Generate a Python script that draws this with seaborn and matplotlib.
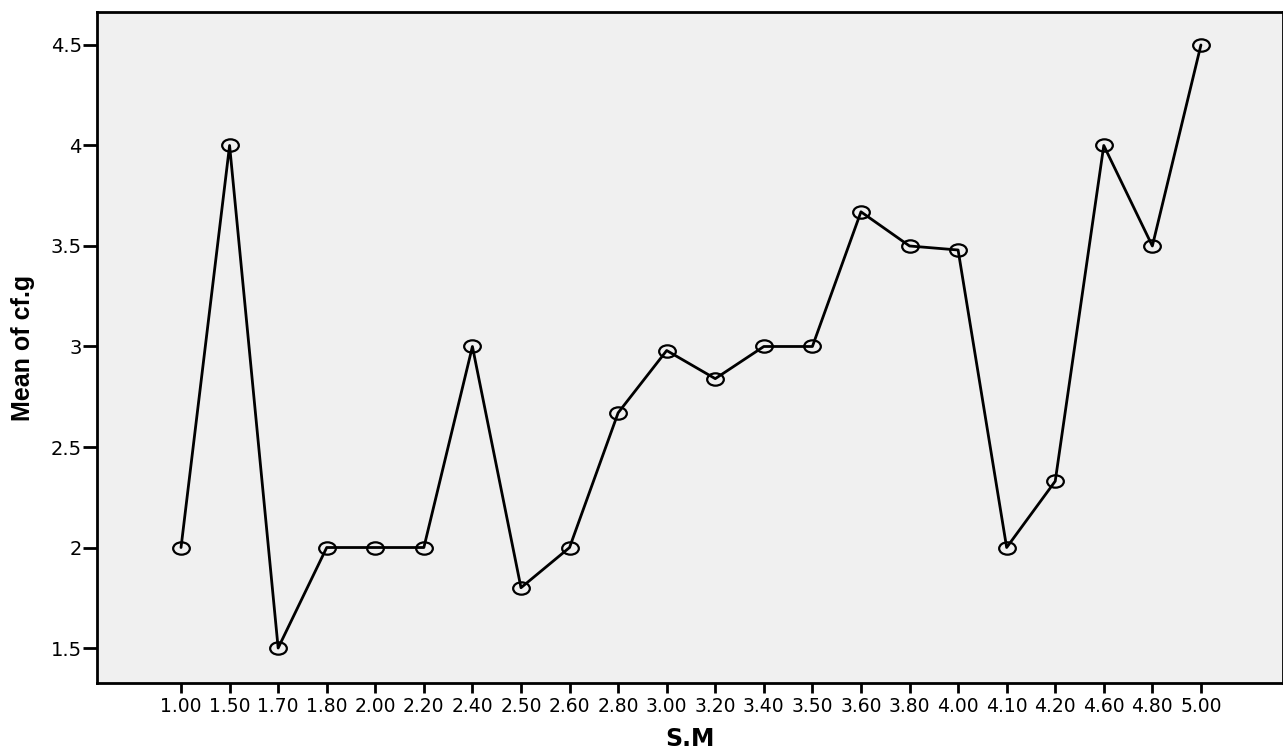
import numpy as np
import pandas as pd
import matplotlib
matplotlib.use("Agg")
import matplotlib.pyplot as plt
from matplotlib.path import Path
import seaborn as sns

# data
sm_labels = ["1.00", "1.50", "1.70", "1.80", "2.00", "2.20", "2.40", "2.50",
             "2.60", "2.80", "3.00", "3.20", "3.40", "3.50", "3.60", "3.80",
             "4.00", "4.10", "4.20", "4.60", "4.80", "5.00"]
mean_cfg = [2.0, 4.0, 1.5, 2.0, 2.0, 2.0, 3.0, 1.8,
            2.0, 2.67, 2.98, 2.84, 3.0, 3.0, 3.67, 3.5,
            3.48, 2.0, 2.33, 4.0, 3.5, 4.5]
y_ticks = [1.5, 2, 2.5, 3, 3.5, 4, 4.5]
y_tick_labels = ["1.5", "2", "2.5", "3", "3.5", "4", "4.5"]

df = pd.DataFrame({"S.M": sm_labels, "Mean of cf.g": mean_cfg})

sns.set_style("ticks")
plt.rcParams["font.family"] = ["DejaVu Sans"]
plt.rcParams["text.color"] = "black"
plt.rcParams["axes.labelcolor"] = "black"

# SPSS-like open ellipse marker
circ = Path.unit_circle()
ellipse = Path(circ.vertices * np.array([1.35, 1.0]), circ.codes)

fig = plt.figure(figsize=(12.83, 7.53), dpi=100)
ax = fig.add_axes([97 / 1283, 1 - 683 / 753, 1 - 97 / 1283, (683 - 12) / 753])
ax.set_facecolor("#F0F0F0")

sns.lineplot(data=df, x="S.M", y="Mean of cf.g", sort=False, ax=ax,
             color="black", linewidth=2.0, marker=ellipse, markersize=12,
             markerfacecolor="none", markeredgecolor="black",
             markeredgewidth=1.6)

ax.set_xlim(-1.73, 22.69)
ax.set_ylim(1.326, 4.664)
ax.set_yticks(y_ticks)
ax.set_yticklabels(y_tick_labels)

for side in ["left", "bottom", "top", "right"]:
    ax.spines[side].set_linewidth(2.0)
    ax.spines[side].set_color("black")

ax.tick_params(axis="y", length=10, width=2, pad=1, labelsize=14, colors="black")
ax.tick_params(axis="x", length=7, width=2, pad=3, labelsize=13.5, colors="black")
ax.grid(False)

ax.set_xlabel("S.M", fontsize=17, fontweight="bold", labelpad=8)
ax.set_ylabel("Mean of cf.g", fontsize=18, fontweight="bold",
              family=["Liberation Sans", "DejaVu Sans"], labelpad=11)

fig.savefig("out.png", dpi=100, facecolor="white")
